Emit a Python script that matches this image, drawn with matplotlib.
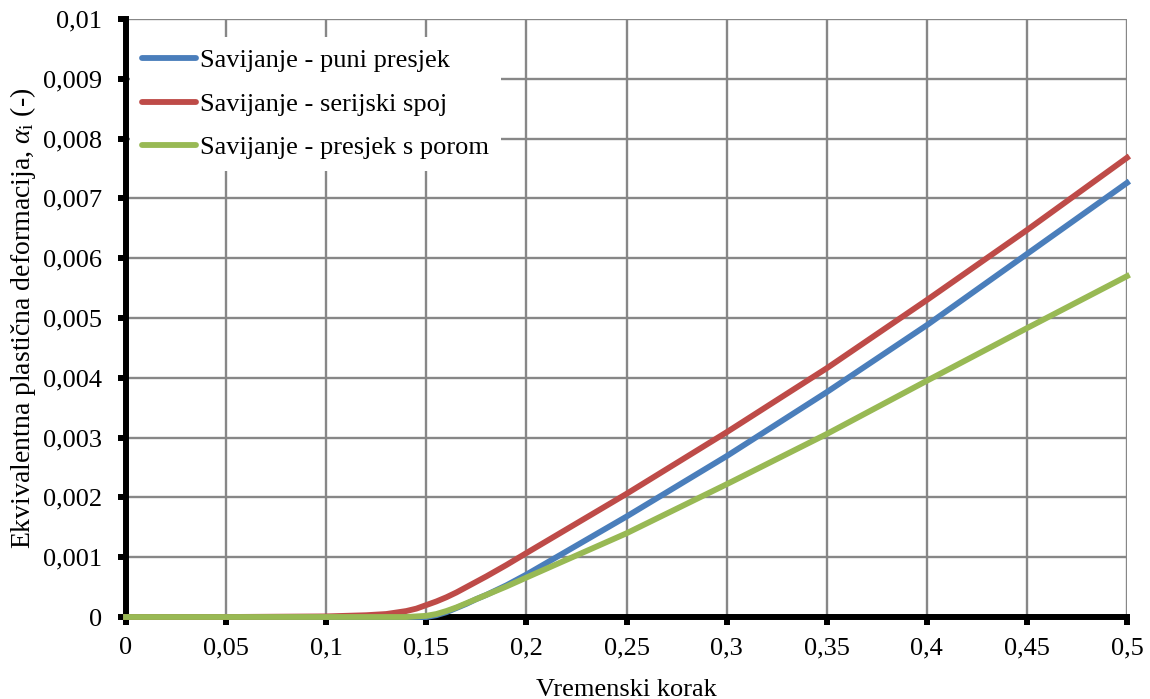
import matplotlib
matplotlib.use('Agg')
import matplotlib.pyplot as plt
from matplotlib.ticker import FuncFormatter

plt.rcParams['font.family'] = 'Liberation Serif'
plt.rcParams['mathtext.fontset'] = 'custom'
plt.rcParams['mathtext.rm'] = 'Liberation Serif'
plt.rcParams['mathtext.it'] = 'Liberation Serif:italic'

# data
time_step = [0, 0.05, 0.1, 0.12, 0.13, 0.14, 0.145, 0.15, 0.155, 0.16, 0.165, 0.17, 0.175,
             0.18, 0.19, 0.2, 0.25, 0.3, 0.35, 0.4, 0.45, 0.5]
puni = [0, 0, 0, 0, 0, 0, 0, 0, 0.00003, 0.00008, 0.00015, 0.00022, 0.0003,
        0.00037, 0.00053, 0.00071, 0.00168, 0.00269, 0.00376, 0.00488, 0.00607, 0.00726]
serijski = [0, 0, 0.00001, 0.00003, 0.00005, 0.0001, 0.00014, 0.0002, 0.00026, 0.00033, 0.00041, 0.0005, 0.00059,
            0.00068, 0.00087, 0.00107, 0.00206, 0.00309, 0.00416, 0.0053, 0.00647, 0.00768]
porom = [0, 0, 0, 0, 0, 0, 0.00001, 0.00002, 0.00005, 0.0001, 0.00016, 0.00023, 0.0003,
         0.00037, 0.00051, 0.00066, 0.0014, 0.00222, 0.00306, 0.00395, 0.00483, 0.0057]
labels = ['Savijanje - puni presjek', 'Savijanje - serijski spoj', 'Savijanje - presjek s porom']
colors = ['#4A7EBB', '#BE4B48', '#98B954']

fig = plt.figure(figsize=(11.5, 6.99), dpi=100)
ax = fig.add_axes([0.1096, 0.1173, 0.8704, 0.8555])

for y, lab, c in zip([puni, serijski, porom], labels, colors):
    ax.plot(time_step, y, color=c, linewidth=4.2, label=lab, clip_on=False, zorder=4,
            solid_joinstyle='round')

ax.set_xlim(0, 0.5)
ax.set_ylim(0, 0.01)
ax.set_xticks([i * 0.05 for i in range(11)])
ax.set_yticks([i * 0.001 for i in range(11)])


def comma_fmt(v, pos):
    s = ('%.3f' % v).rstrip('0').rstrip('.')
    return s.replace('.', ',')


ax.xaxis.set_major_formatter(FuncFormatter(comma_fmt))
ax.yaxis.set_major_formatter(FuncFormatter(comma_fmt))

ax.grid(True, color='#878787', linewidth=1.7)
ax.set_axisbelow(True)
for side in ['top', 'right']:
    ax.spines[side].set_visible(False)
for side in ['left', 'bottom']:
    ax.spines[side].set_linewidth(4.3)
    ax.spines[side].set_zorder(3.5)
ax.tick_params(axis='both', labelsize=19, width=4.3, length=6, direction='out')
ax.tick_params(axis='x', pad=8.5)
ax.tick_params(axis='y', pad=11)

ax.set_xlabel('Vremenski korak', fontsize=19)
ax.xaxis.set_label_coords(0.5, -0.103)
ax.set_ylabel(r'Ekvivalentna plastična deformacija, $\alpha_\mathrm{i}$ (-)', fontsize=20)
ax.yaxis.set_label_coords(-0.088, 0.5)

leg = ax.legend(loc='upper left', bbox_to_anchor=(0.004, 0.97), fontsize=19,
                frameon=True, facecolor='white', edgecolor='none', framealpha=1,
                fancybox=False, handlelength=2.05, handletextpad=0.15,
                labelspacing=0.76, borderpad=0.45, borderaxespad=0)
leg.set_zorder(3)
for h in leg.get_lines():
    h.set_solid_capstyle('round')

fig.savefig('out.png', dpi=100)
